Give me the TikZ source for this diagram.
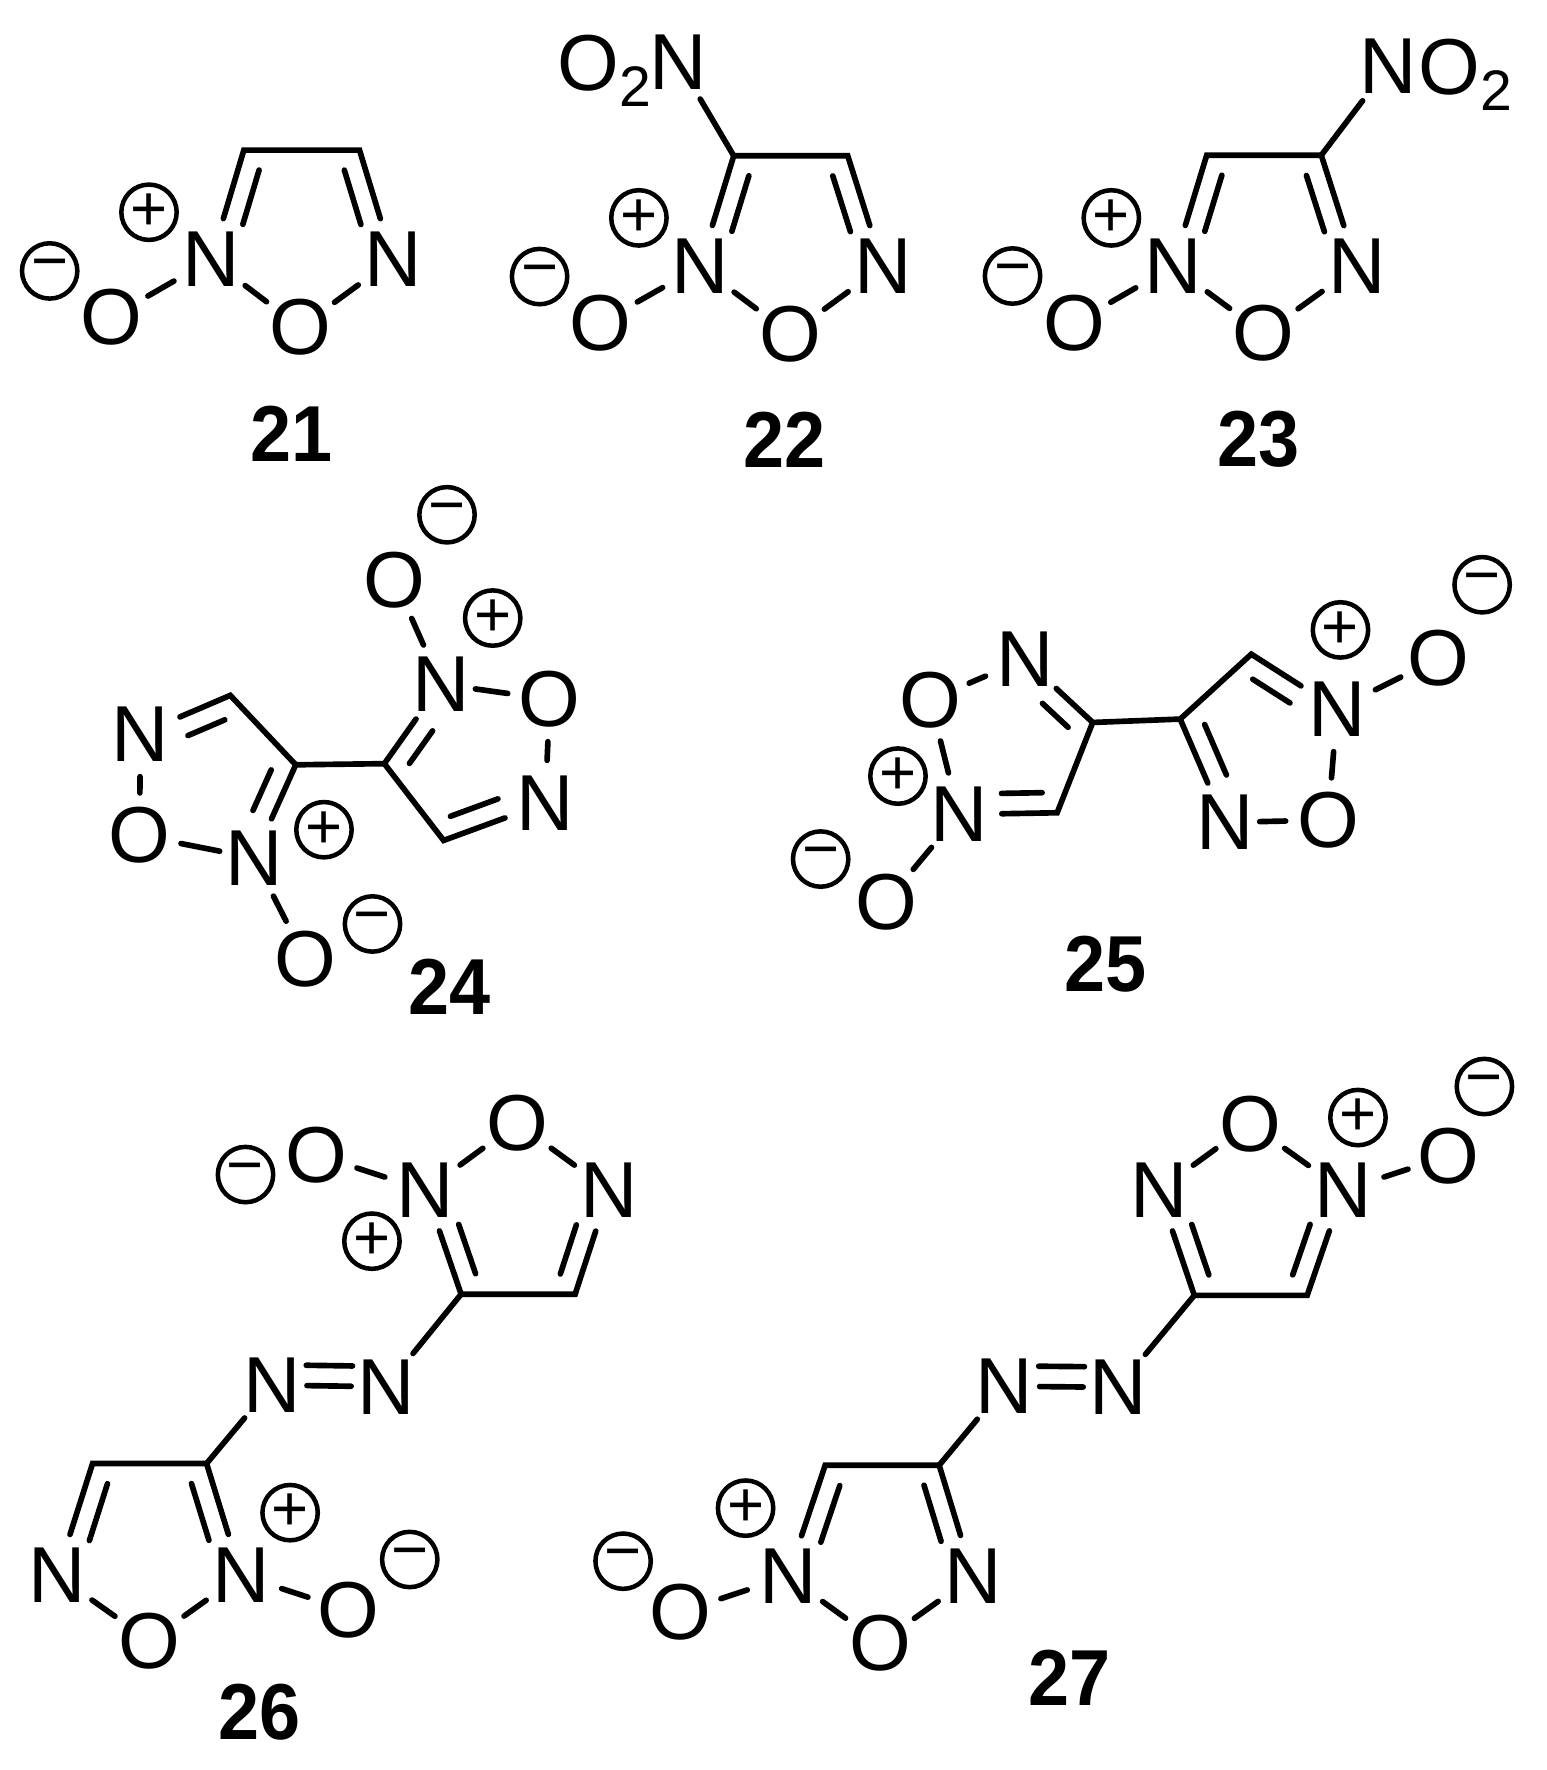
\documentclass[tikz,border=0pt]{standalone}
\usepackage{fontspec}
\setmainfont{Liberation Sans}
\usetikzlibrary{calc}
\tikzset{
  atom/.style={circle, inner sep=0pt, font=\fontsize{20}{20}\selectfont},
  natom/.style={atom, outer sep=0.03cm},
  group/.style={anchor=base west, inner sep=0pt, font=\fontsize{20}{20}\selectfont},
  charge/.style={circle, draw, line width=0.04cm, inner sep=0pt, minimum size=0.49cm, font=\fontsize{16}{16}\selectfont},
  cpd/.style={inner sep=0pt, font=\fontsize{20}{20}\selectfont\bfseries},
  bond/.style={line width=0.05cm, line cap=round},
  nearbond/.style={bond, shorten <=-0.07cm}
}
\newcommand{\innerbond}[3]{\draw[bond] ($(#1)!0.13cm!(#2)!0.18cm!#3:(#2)$) -- ($(#2)!0.38cm!(#1)!0.18cm!-#3:(#1)$);}
\newcommand{\azobond}[2]{\draw[bond] ($(#1)!0.30cm!(#2)!0.18cm!-90:(#2)$) -- ($(#2)!0.30cm!(#1)!0.18cm!90:(#1)$);}
\newcommand{\subtwo}{\raisebox{-0.14cm}{\fontsize{14.4}{14.4}\selectfont 2}}
\newcommand{\cpdnum}[1]{\scalebox{0.93}[1]{#1}}
\begin{document}
\begin{tikzpicture}[x=0.01cm, y=-0.01cm]
\useasboundingbox (0,0) rectangle (1370,1568);

\node[charge] (neg21) at (44,240) {−};
\node[charge] (pos21) at (132,188) {+};
\node[atom] (o21a) at (98.5,281) {O};
\node[natom] (n21a) at (187,230) {N};
\node[atom] (o21b) at (266,290) {O};
\node[natom] (n21b) at (348,230) {N};
\coordinate (c21a) at (216,133);
\coordinate (c21b) at (318.5,133);
\node[cpd] (lab21) at (258,384) {\cpdnum{21}};
\draw[bond] (n21a) -- (c21a) -- (c21b) -- (n21b);
\draw[bond] (o21a) -- (n21a);
\draw[bond] (n21a) -- (o21b);
\draw[bond] (o21b) -- (n21b);
\innerbond{c21a}{n21a}{90}
\innerbond{c21b}{n21b}{-90}

\node[charge] (neg22) at (478,245) {−};
\node[charge] (pos22) at (566,193) {+};
\node[atom] (o22a) at (532,286) {O};
\node[natom] (n22a) at (620,236) {N};
\node[atom] (o22b) at (700,296) {O};
\node[natom] (n22b) at (782,236) {N};
\node[natom] (n22c) at (601,55) {N};
\node[group] (o22c) at (493,80) {O\subtwo};
\coordinate (c22a) at (650,138);
\coordinate (c22b) at (751,138);
\node[cpd] (lab22) at (695,390) {\cpdnum{22}};
\draw[bond] (n22a) -- (c22a) -- (c22b) -- (n22b);
\draw[bond] (o22a) -- (n22a);
\draw[bond] (n22a) -- (o22b);
\draw[bond] (o22b) -- (n22b);
\draw[bond] (c22a) -- (n22c);
\innerbond{c22a}{n22a}{90}
\innerbond{c22b}{n22b}{-90}

\node[charge] (neg23) at (897,244.5) {−};
\node[charge] (pos23) at (984.5,193) {+};
\node[atom] (o23a) at (951.5,286.5) {O};
\node[natom] (n23a) at (1039,236) {N};
\node[atom] (o23b) at (1119.5,295.5) {O};
\node[natom] (n23b) at (1202,236) {N};
\node[natom] (n23c) at (1230,59) {N};
\node[group] (o23c) at (1256,84) {O\subtwo};
\coordinate (c23a) at (1069,137.5);
\coordinate (c23b) at (1170.5,137.5);
\node[cpd] (lab23) at (1114.5,389) {\cpdnum{23}};
\draw[bond] (n23a) -- (c23a) -- (c23b) -- (n23b);
\draw[bond] (o23a) -- (n23a);
\draw[bond] (n23a) -- (o23b);
\draw[bond] (o23b) -- (n23b);
\draw[bond] (c23b) -- (n23c);
\innerbond{c23a}{n23a}{90}
\innerbond{c23b}{n23b}{-90}

\node[charge] (neg24a) at (396,456) {−};
\node[charge] (pos24a) at (436.5,547.5) {+};
\node[charge] (pos24b) at (287,735) {+};
\node[charge] (neg24b) at (330,818.5) {−};
\node[atom] (o24a) at (349.5,513.5) {O};
\node[natom] (n24a) at (390.5,606) {N};
\node[atom] (o24b) at (487,619.5) {O};
\node[natom] (n24b) at (483,711.5) {N};
\node[natom] (n24c) at (124.5,650) {N};
\node[atom] (o24c) at (123.5,740) {O};
\node[natom] (n24d) at (225,760) {N};
\node[atom] (o24d) at (270.5,849.5) {O};
\coordinate (c24a) at (393,744.5);
\coordinate (c24b) at (340.5,676.5);
\coordinate (c24c) at (262,677.5);
\coordinate (c24d) at (204,616);
\node[cpd] (lab24) at (398,874.5) {\cpdnum{24}};
\draw[bond] (n24b) -- (c24a) -- (c24b) -- (n24a);
\draw[bond] (c24b) -- (c24c);
\draw[bond] (n24d) -- (c24c) -- (c24d) -- (n24c);
\draw[bond] (n24a) -- (o24a);
\draw[nearbond] (n24a) -- (o24b);
\draw[bond] (o24b) -- (n24b);
\draw[bond] (n24c) -- (o24c);
\draw[nearbond] (n24d) -- (o24c);
\draw[bond] (n24d) -- (o24d);
\innerbond{c24a}{n24b}{90}
\innerbond{c24b}{n24a}{-90}
\innerbond{c24c}{n24d}{-90}
\innerbond{c24d}{n24c}{90}

\node[charge] (neg25a) at (727,761) {−};
\node[charge] (pos25a) at (795.5,687.5) {+};
\node[charge] (pos25b) at (1187.5,558) {+};
\node[charge] (neg25b) at (1313,518) {−};
\node[natom] (n25a) at (908,584) {N};
\node[atom] (o25a) at (824,620) {O};
\node[natom] (n25b) at (849.5,721.5) {N};
\node[atom] (o25b) at (785,799) {O};
\node[natom] (n25c) at (1184.5,628) {N};
\node[atom] (o25c) at (1274.5,583) {O};
\node[atom] (o25d) at (1176.5,726.5) {O};
\node[natom] (n25d) at (1085,728.5) {N};
\coordinate (c25a) at (968,640);
\coordinate (c25b) at (936.5,720);
\coordinate (c25c) at (1045.5,637);
\coordinate (c25d) at (1108.5,579.5);
\node[cpd] (lab25) at (979,854) {\cpdnum{25}};
\draw[bond] (n25a) -- (c25a) -- (c25b) -- (n25b);
\draw[bond] (c25a) -- (c25c);
\draw[bond] (n25d) -- (c25c) -- (c25d) -- (n25c);
\draw[bond] (n25a) -- (o25a);
\draw[bond] (o25a) -- (n25b);
\draw[bond] (n25b) -- (o25b);
\draw[bond] (n25c) -- (o25c);
\draw[bond] (n25c) -- (o25d);
\draw[nearbond] (n25d) -- (o25d);
\innerbond{c25a}{n25a}{90}
\innerbond{c25b}{n25b}{-90}
\innerbond{c25c}{n25d}{90}
\innerbond{c25d}{n25c}{-90}

\node[charge] (neg26a) at (217.5,1040.5) {−};
\node[charge] (pos26a) at (329.5,1099.5) {+};
\node[charge] (pos26b) at (257,1340) {+};
\node[charge] (neg26b) at (363,1381.5) {−};
\node[atom] (o26a) at (280.5,1023) {O};
\node[natom] (n26a) at (377,1054.5) {N};
\node[atom] (o26b) at (458,995) {O};
\node[natom] (n26b) at (539.5,1054.5) {N};
\node[natom] (n26c) at (342,1228.5) {N};
\node[natom] (n26d) at (241,1227) {N};
\node[natom] (n26e) at (50.5,1395.5) {N};
\node[atom] (o26e) at (132.5,1453.5) {O};
\node[natom] (n26f) at (213.5,1395.5) {N};
\node[atom] (o26f) at (308.5,1426.5) {O};
\coordinate (c26a) at (408.5,1146.5);
\coordinate (c26b) at (509.5,1146.5);
\coordinate (c26c) at (183,1296.5);
\coordinate (c26d) at (82,1296.5);
\node[cpd] (lab26) at (230,1516.5) {\cpdnum{26}};
\draw[bond] (n26a) -- (c26a) -- (c26b) -- (n26b);
\draw[bond] (n26e) -- (c26d) -- (c26c) -- (n26f);
\draw[bond] (c26a) -- (n26c);
\draw[nearbond, shorten >=-0.07cm] (n26c) -- (n26d);
\draw[bond] (n26d) -- (c26c);
\draw[bond] (o26a) -- (n26a);
\draw[bond] (n26a) -- (o26b);
\draw[bond] (o26b) -- (n26b);
\draw[bond] (n26e) -- (o26e);
\draw[bond] (o26e) -- (n26f);
\draw[bond] (n26f) -- (o26f);
\azobond{n26c}{n26d}
\innerbond{c26a}{n26a}{-90}
\innerbond{c26b}{n26b}{90}
\innerbond{c26c}{n26f}{-90}
\innerbond{c26d}{n26e}{90}

\node[charge] (neg27a) at (1315,962.5) {−};
\node[charge] (pos27a) at (1203,990) {+};
\node[charge] (pos27b) at (660.5,1336) {+};
\node[charge] (neg27b) at (552,1383) {−};
\node[natom] (n27a) at (1026.5,1054.5) {N};
\node[atom] (o27a) at (1107.5,995.5) {O};
\node[natom] (n27b) at (1190,1054.5) {N};
\node[atom] (o27b) at (1283,1024) {O};
\node[natom] (n27c) at (990.5,1229) {N};
\node[natom] (n27d) at (890,1228) {N};
\node[natom] (n27e) at (698,1396.5) {N};
\node[atom] (o27e) at (603,1428) {O};
\node[atom] (o27f) at (779.5,1455.5) {O};
\node[natom] (n27f) at (862,1396.5) {N};
\coordinate (c27a) at (1058,1147.5);
\coordinate (c27b) at (1158,1147.5);
\coordinate (c27c) at (832,1298);
\coordinate (c27d) at (731,1298);
\node[cpd] (lab27) at (947.5,1486) {\cpdnum{27}};
\draw[bond] (n27a) -- (c27a) -- (c27b) -- (n27b);
\draw[bond] (n27e) -- (c27d) -- (c27c) -- (n27f);
\draw[bond] (c27a) -- (n27c);
\draw[nearbond, shorten >=-0.07cm] (n27c) -- (n27d);
\draw[bond] (n27d) -- (c27c);
\draw[bond] (n27a) -- (o27a);
\draw[bond] (o27a) -- (n27b);
\draw[bond] (n27b) -- (o27b);
\draw[bond] (o27e) -- (n27e);
\draw[bond] (n27e) -- (o27f);
\draw[bond] (o27f) -- (n27f);
\azobond{n27c}{n27d}
\innerbond{c27a}{n27a}{-90}
\innerbond{c27b}{n27b}{90}
\innerbond{c27c}{n27f}{-90}
\innerbond{c27d}{n27e}{90}
\end{tikzpicture}
\end{document}
